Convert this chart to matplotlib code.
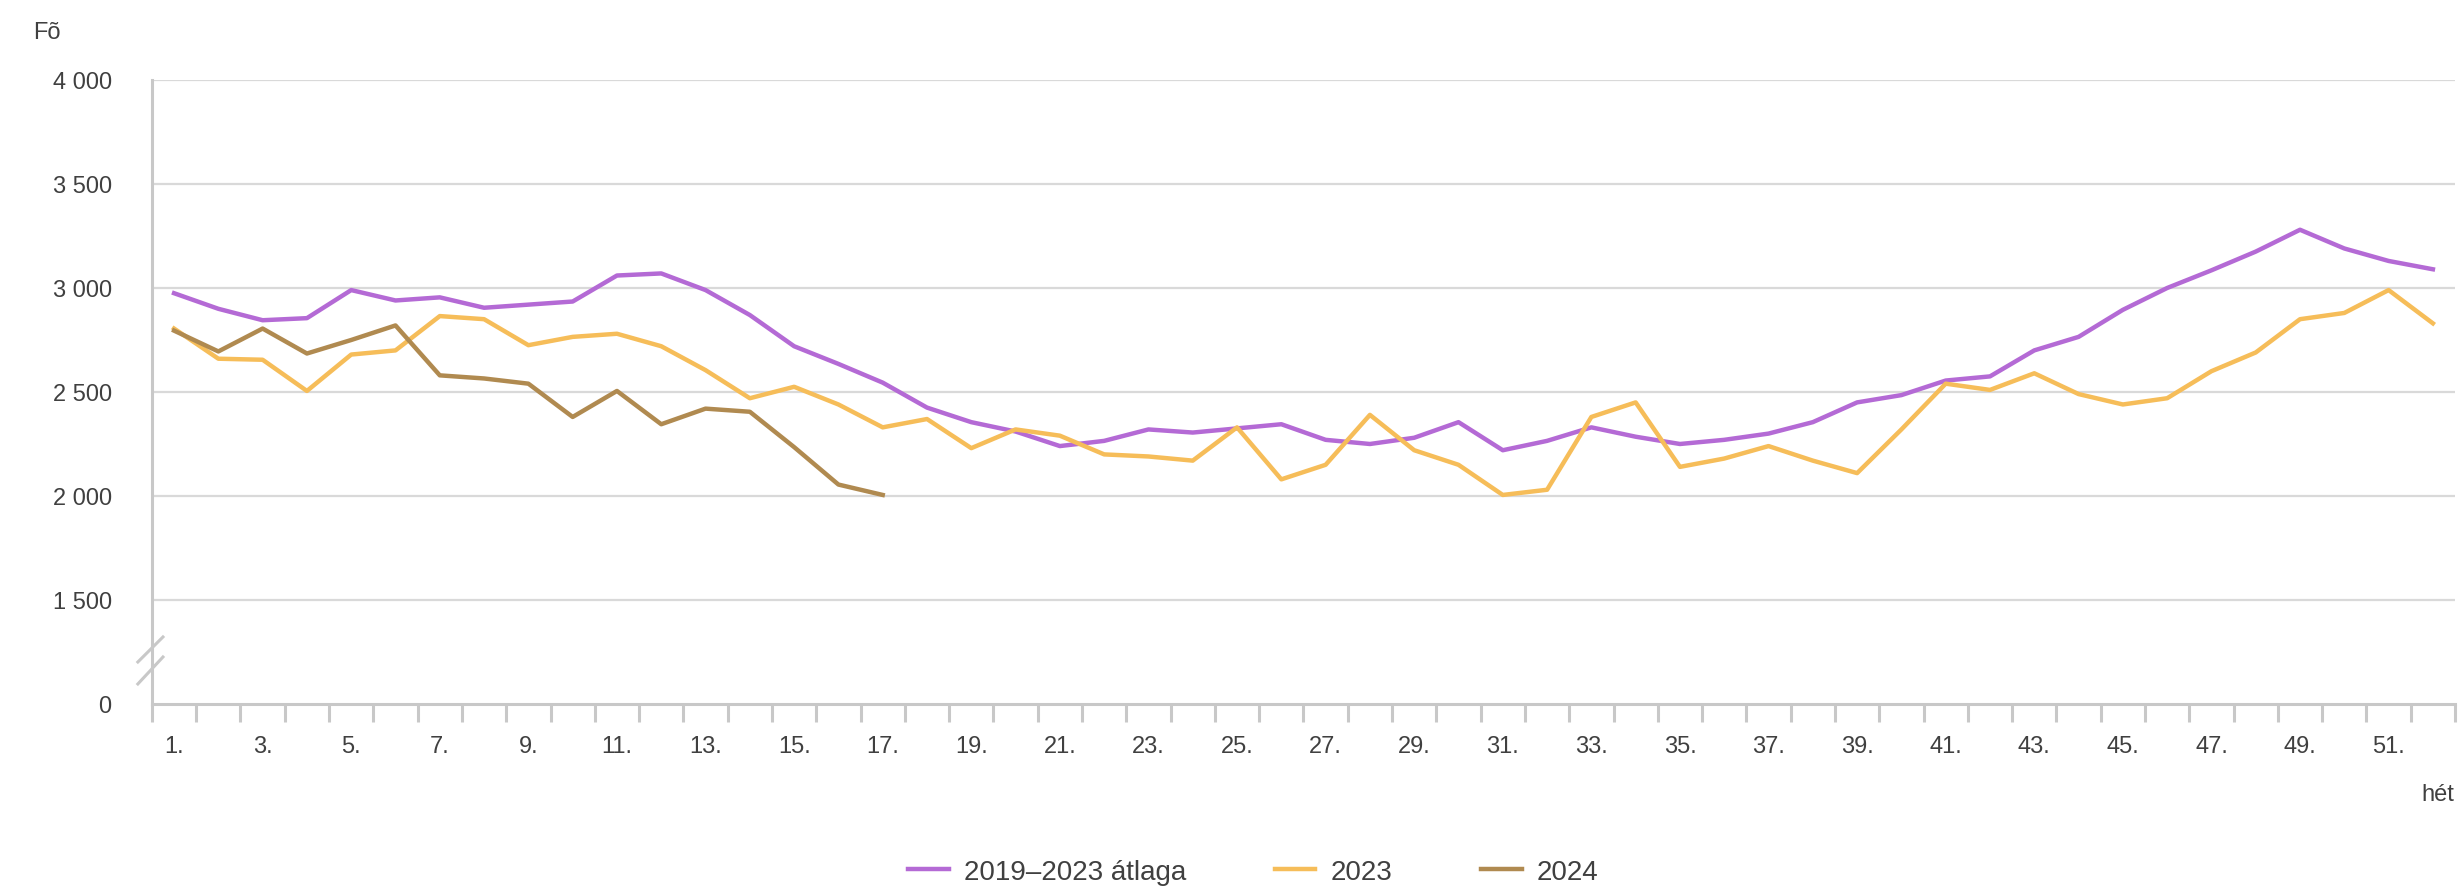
import matplotlib.pyplot as plt
from matplotlib.lines import Line2D

# Weekly death counts (persons)
weeks = list(range(1, 53))

avg_2019_2023 = [
    2975, 2900, 2845, 2855, 2990, 2940, 2955, 2905, 2920, 2935,
    3060, 3070, 2990, 2870, 2720, 2635, 2545, 2425, 2355, 2310,
    2240, 2265, 2320, 2305, 2325, 2345, 2270, 2250, 2280, 2355,
    2220, 2265, 2330, 2285, 2250, 2270, 2300, 2355, 2450, 2485,
    2555, 2575, 2700, 2765, 2895, 3000, 3085, 3175, 3280, 3190,
    3130, 3090,
]
deaths_2023 = [
    2805, 2660, 2655, 2505, 2680, 2700, 2865, 2850, 2725, 2765,
    2780, 2720, 2605, 2470, 2525, 2440, 2330, 2370, 2230, 2320,
    2290, 2200, 2190, 2170, 2330, 2080, 2150, 2390, 2220, 2150,
    2005, 2030, 2380, 2450, 2140, 2180, 2240, 2170, 2110, 2320,
    2540, 2510, 2590, 2490, 2440, 2470, 2600, 2690, 2850, 2880,
    2990, 2830,
]
deaths_2024 = [
    2795, 2695, 2805, 2685, 2750, 2820, 2580, 2565, 2540, 2380,
    2505, 2345, 2420, 2405, 2235, 2055, 2005,
]

series_labels = ["2019\u20132023 átlaga", "2023", "2024"]
series_colors = ["#b46ad5", "#f6bd59", "#b08a50"]

y_ticks = [1500, 2000, 2500, 3000, 3500, 4000]
x_tick_weeks = list(range(1, 52, 2))

TEXT_COLOR = "#404040"
GRID_COLOR = "#d9d9d9"
AXIS_COLOR = "#c8c8c8"
FONT = "Liberation Sans"

plt.rcParams["font.family"] = [FONT, "DejaVu Sans"]

fig = plt.figure(figsize=(24.58, 8.95), dpi=100)
ax = fig.add_axes([0.0618, 0.2123, 0.9370, 0.6972])

# the value axis is broken: the band below 1500 is collapsed so that 0 sits
# one step under 1500
BREAK_BASE = 1000
ax.set_ylim(BREAK_BASE, 4000)
ax.set_xlim(0.5, 52.5)

for values, label, color in zip(
    [avg_2019_2023, deaths_2023, deaths_2024], series_labels, series_colors
):
    ax.plot(weeks[: len(values)], values, color=color, lw=3.2,
            solid_joinstyle="round", label=label, zorder=3)

for v in y_ticks:
    ax.axhline(v, color=GRID_COLOR, lw=1.6, zorder=1)

ax.set_yticks([BREAK_BASE] + y_ticks)
ax.set_yticklabels(["0"] + [f"{v:,}".replace(",", " ") for v in y_ticks])
ax.tick_params(axis="y", length=0, pad=29, labelsize=17, labelcolor=TEXT_COLOR)

# tick marks between weeks, labels on odd weeks
ax.set_xticks([w + 0.5 for w in [0] + weeks])
ax.set_xticklabels([])
ax.tick_params(axis="x", which="major", length=13, width=2.2, color=AXIS_COLOR)
ax.set_xticks(x_tick_weeks, minor=True)
ax.set_xticklabels([f"{w}." for w in x_tick_weeks], minor=True)
ax.tick_params(axis="x", which="minor", length=0, pad=22, labelsize=17,
               labelcolor=TEXT_COLOR)

for side in ["top", "right"]:
    ax.spines[side].set_visible(False)
for side in ["left", "bottom"]:
    ax.spines[side].set_color(AXIS_COLOR)
    ax.spines[side].set_linewidth(2.2)

# break marks on the value axis
for y0, y1 in [(0.0673, 0.1074), (0.0321, 0.0753)]:
    ax.add_line(Line2D([-0.0061, 0.0048], [y0, y1], transform=ax.transAxes,
                       color=AXIS_COLOR, lw=2.2, clip_on=False))

fig.text(0.0134, 0.963, "Fõ", fontsize=17, color=TEXT_COLOR, va="center")
fig.text(0.9985, 0.112, "hét", fontsize=17, color=TEXT_COLOR,
         ha="right", va="center")

fig.legend(loc="center", bbox_to_anchor=(0.51, 0.025), ncol=3, frameon=False,
           fontsize=20, handlelength=1.45, handletextpad=0.55,
           columnspacing=3.2, labelcolor=TEXT_COLOR)

fig.savefig("out.png", dpi=100, facecolor="white")
